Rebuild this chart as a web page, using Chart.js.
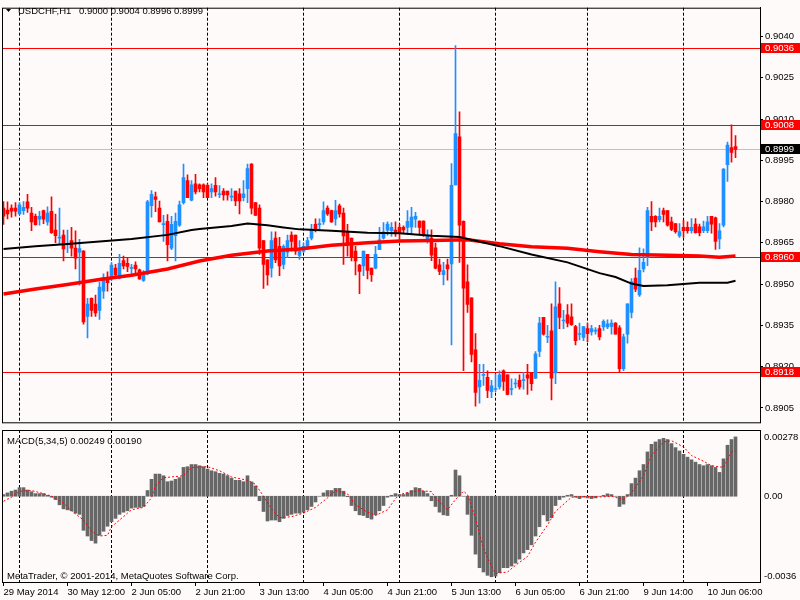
<!DOCTYPE html>
<html>
<head>
<meta charset="utf-8">
<script src="https://cdn.jsdelivr.net/npm/chart.js"></script>
<style>
  body { margin: 0; background: #fffafa; }
  canvas { position: absolute; left: 0; }
  #graficoPreco { top: 0; }
  #graficoMacd { top: 429px; }
</style>
</head>
<body>
<canvas id="graficoPreco" width="800" height="430"></canvas>
<canvas id="graficoMacd" width="800" height="171"></canvas>
<script>
const symbol = 'USDCHF,H1';
const headerOhlc = '0.9000 0.9004 0.8996 0.8999';
const macdTitle = 'MACD(5,34,5) 0.00249 0.00190';
const copyright = 'MetaTrader, © 2001-2014, MetaQuotes Software Corp.';

// H1 candles, one entry per bar
const opens = [
  .89776,.89769,.89776,.89776,.89755,.89767,.89799,.89758,.89746,.89736,
  .89767,.89726,.89765,.89696,.89667,.89678,.89645,.89658,.89631,.89616,
  .8962,.89383,.89448,.89427,.89404,.89474,.89525,.89525,.89558,.89522,
  .89586,.89576,.89557,.89569,.89552,.89513,.89537,.89785,.89817,.89776,
  .89716,.89728,.89631,.89676,.89714,.89796,.89876,.89805,.89865,.89861,
  .89861,.89859,.89835,.89859,.89825,.89838,.89838,.89816,.89838,.89828,
  .89814,.89847,.89936,.89796,.89776,.89658,.89588,.89558,.89667,.89637,
  .89572,.89616,.89678,.89678,.89604,.8962,.89631,.89667,.89717,.89716,
  .89726,.89776,.89767,.89737,.89785,.89758,.8969,.89667,.8962,.89569,
  .89566,.89608,.89558,.89558,.89625,.89667,.89696,.89694,.89696,.89706,
  .89706,.89706,.89708,.89736,.89729,.89729,.89664,.89667,.89632,.8957,
  .89534,.8957,.89573,.89861,.90035,.89728,.89508,.8945,.89261,.89126,
  .89168,.89161,.89109,.89117,.89126,.89185,.8917,.89117,.89137,.8915,
  .89149,.8917,.89177,.89158,.89255,.89379,.89307,.8933,.89177,.89428,
  .89366,.89388,.89381,.89346,.89317,.89306,.89338,.89326,.89329,.89338,
  .89344,.89344,.89346,.89358,.89341,.89193,.89318,.89397,.89522,.89461,
  .89555,.89597,.89746,.89746,.89734,.89767,.89767,.89726,.8972,.89675,
  .89706,.89706,.89694,.89718,.89708,.89694,.89694,.89746,.89741,.89664,
  .89714,.89934,.89996,.9000
];
const highs = [
  .8980,.89799,.89788,.89796,.89796,.8980,.89826,.89779,.89755,.89765,
  .89769,.89781,.89817,.89755,.89776,.89696,.89696,.89706,.89694,.89663,
  .89622,.89448,.8945,.8946,.89507,.89537,.89545,.89578,.89572,.89608,
  .89602,.89596,.89572,.89581,.89555,.89549,.89805,.8984,.89835,.89802,
  .8975,.89753,.89746,.89758,.89802,.89936,.89897,.89876,.89899,.89865,
  .89865,.89865,.89865,.89887,.89858,.89847,.89838,.89847,.89838,.89847,
  .89876,.89936,.89938,.89796,.89788,.89658,.89588,.8969,.8969,.8967,
  .89643,.89678,.8969,.89678,.89658,.89649,.8967,.89717,.89737,.89737,
  .89799,.89785,.89769,.89805,.89791,.89776,.89717,.89667,.89637,.89572,
  .8962,.89608,.89558,.89637,.89706,.89724,.89726,.89724,.89726,.89718,
  .89712,.89767,.89779,.89761,.8973,.8973,.89697,.89697,.89649,.89591,
  .89579,.89591,.89938,.90367,.90126,.8973,.8957,.8945,.8932,.89208,
  .89208,.89185,.8915,.89173,.89185,.89188,.8917,.89156,.89156,.8917,
  .89179,.89208,.89179,.89255,.89379,.89379,.8935,.89428,.89508,.89487,
  .89405,.89426,.89428,.8935,.89358,.89346,.89358,.8935,.89342,.8935,
  .8937,.8937,.8937,.8936,.89349,.89318,.89428,.8952,.89558,.89632,
  .89628,.89779,.8980,.89749,.89776,.89776,.89767,.89744,.8972,.8972,
  .89732,.89726,.89738,.89738,.89718,.89729,.89746,.89746,.89744,.8972,
  .8992,.90016,.90079,.9004
];
const lows = [
  .89717,.89737,.89743,.89747,.89753,.89753,.89761,.89694,.89714,.89714,
  .8972,.89714,.89684,.89651,.89643,.89584,.89614,.89602,.89555,.89496,
  .89354,.89304,.89383,.89383,.89372,.89448,.89474,.89513,.89531,.89519,
  .89555,.89545,.89537,.89533,.89517,.8951,.89533,.89743,.89763,.89726,
  .89655,.89584,.89625,.89584,.8971,.89791,.89814,.89802,.89828,.89835,
  .89814,.89814,.89814,.8982,.89814,.89805,.89805,.89802,.89785,.89755,
  .89802,.89796,.89755,.8975,.89608,.89484,.89496,.89525,.89578,.89531,
  .89555,.89596,.8962,.89608,.8959,.89614,.89625,.89661,.8969,.89699,
  .89717,.8975,.89724,.89714,.89743,.89572,.89602,.89584,.89533,.89465,
  .89531,.89519,.8951,.89555,.89625,.89663,.89678,.89673,.89673,.89658,
  .89685,.89682,.89682,.89706,.89682,.89673,.89649,.89585,.89555,.89534,
  .89497,.89514,.89279,.89861,.89579,.89185,.89397,.89217,.89056,.89067,
  .89132,.89087,.89087,.89109,.89118,.89114,.89097,.89097,.89123,.89118,
  .89118,.89099,.89114,.89156,.89236,.89314,.89287,.89079,.89138,.89338,
  .89338,.89344,.8935,.89279,.89297,.89294,.89291,.89314,.89318,.89297,
  .89332,.89338,.89318,.89318,.89179,.89185,.89285,.89377,.89473,.89455,
  .89544,.89567,.89694,.89708,.89726,.89726,.89711,.89694,.89685,.8967,
  .8967,.89685,.89685,.89685,.89675,.89687,.89687,.89685,.89626,.89628,
  .89708,.89873,.89943,.8996
];
const closes = [
  .89747,.89755,.89765,.89765,.89788,.89779,.89776,.89726,.89716,.89746,
  .89736,.89758,.89687,.89676,.89668,.89628,.89646,.89631,.89594,.89629,
  .89363,.89427,.89404,.89395,.89489,.89525,.89505,.89569,.89533,.89576,
  .89566,.89564,.89559,.89555,.89519,.89537,.89799,.89826,.89808,.89726,
  .89719,.89643,.89717,.89728,.89788,.89887,.89814,.89861,.89835,.89847,
  .89835,.89814,.89847,.89835,.89827,.89824,.89824,.89818,.89802,.89802,
  .89828,.8992,.89776,.8975,.89631,.89572,.89533,.89658,.89588,.89566,
  .89637,.89658,.89655,.8962,.8962,.89637,.89658,.89699,.89696,.89718,
  .89767,.89755,.89726,.89767,.89755,.89675,.89643,.89596,.89584,.89546,
  .8962,.8955,.89534,.89608,.89661,.8969,.89718,.89706,.89687,.89687,
  .89697,.89728,.89744,.89746,.89706,.89679,.89675,.89605,.89558,.89546,
  .89549,.89555,.89859,.90047,.89714,.89485,.89426,.89244,.89106,.8915,
  .8917,.89114,.8913,.89118,.8917,.89146,.89099,.89118,.89138,.89126,
  .8915,.89158,.89138,.89247,.89358,.89318,.89308,.89158,.89417,.89379,
  .89367,.89358,.89353,.89294,.89318,.89346,.8932,.89338,.8933,.89308,
  .89365,.89356,.89358,.89318,.89193,.89308,.89428,.89508,.89482,.8955,
  .89579,.89767,.89726,.89726,.89746,.89753,.89714,.89699,.89691,.89691,
  .89694,.89694,.89706,.89687,.89687,.89708,.89726,.89718,.89655,.89694,
  .89918,.90005,.89979,.8999
];

// moving averages, read at sample bars
const blackMaIdx = [0,8,16,24,32,41,47,49,57,61,66,70,74,82,91,99,107,114,124,132,141,149,153,157,160,166,174,181,183];
const blackMa = [.89628,.89638,.89646,.89655,.89664,.89679,.89697,.897,.89711,.8972,.89714,.89706,.89699,.89694,.89687,.89685,.89676,.89671,.89638,.89608,.89579,.8954,.89526,.89502,.89493,.89496,.89505,.89505,.89512];
const redMaIdx = [0,8,16,24,32,41,49,57,66,74,82,91,99,107,116,124,132,141,149,157,166,174,179,183];
const redMa = [.89464,.89482,.89499,.89517,.89532,.89555,.89584,.89605,.8962,.89628,.89641,.8965,.89657,.89659,.89661,.89647,.89636,.8963,.89618,.89608,.89605,.89602,.89598,.89602];

// MACD histogram, one value per bar
const macdHist = [
  .00007,.00014,.00021,.00026,.00036,.00036,.00026,.00019,.00011,.00011,
  .00011,.00004,-.00004,-.00014,-.00036,-.00053,-.00057,-.00061,-.00071,-.00076,
  -.00143,-.00167,-.00186,-.00197,-.00164,-.00147,-.00126,-.00107,-.00093,-.00076,
  -.00067,-.00061,-.0005,-.00047,-.00047,-.00043,.00024,.00071,.00093,.00093,
  .00086,.00061,.00064,.00071,.00078,.00121,.00124,.00133,.00133,.00128,
  .00124,.00114,.00107,.00103,.00096,.00093,.00086,.00076,.00067,.00067,
  .00061,.00086,.0006,.00043,-.00019,-.00064,-.00104,-.001,-.001,-.00107,
  -.00093,-.00081,-.00076,-.00071,-.00071,-.00067,-.00057,-.00043,-.00024,0,
  .00014,.00024,.00024,.00033,.00033,.00021,-.00002,-.00039,-.00061,-.00078,
  -.00081,-.0009,-.00096,-.00078,-.00061,-.00039,-.00004,.00004,.00011,.00007,
  .00007,.00014,.00024,.00036,.00033,.00021,.00011,-.00019,-.00043,-.00067,
  -.00078,-.00081,.00004,.0011,.00086,0,-.00076,-.00164,-.00243,-.003,
  -.00318,-.00332,-.00338,-.00335,-.00321,-.003,-.003,-.00293,-.00281,-.00264,
  -.00238,-.00224,-.00204,-.00167,-.00128,-.00078,-.00104,-.0009,-.00039,-.00014,
  -.00004,.00004,.00007,-.00004,-.0001,-.00004,-.00007,-.0001,-.00007,0,
  .00004,.0001,.00007,0,-.00043,-.00033,.00007,.00053,.00076,.00107,
  .00133,.00186,.00218,.00228,.00238,.00243,.00238,.00221,.00204,.0019,
  .00176,.00164,.00153,.00143,.00133,.00128,.00133,.00128,.00121,.001,
  .00157,.00214,.00238,.00249
];
const signalIdx = [0,2,4,7,10,12,15,17,20,22,24,26,27,29,31,32,35,37,38,40,42,45,47,51,54,57,61,63,65,67,69,72,75,78,81,83,86,88,91,93,96,98,99,102,104,107,108,111,113,115,116,118,120,122,123,126,128,131,133,136,138,141,142,146,149,152,155,157,160,162,165,167,170,172,175,177,180,182,183];
const signalVal = [-.00021,-.00004,.00021,.00024,.00011,0,-.00029,-.00061,-.001,-.00147,-.00167,-.00164,-.00128,-.001,-.00071,-.00057,-.00047,-.00007,.00043,.00078,.00081,.00086,.00121,.00124,.00107,.00081,.00067,.0005,0,-.00053,-.0009,-.00086,-.00071,-.00047,-.00007,.00024,.0001,-.00036,-.00067,-.00081,-.00057,-.0001,.00007,.00019,.00024,.00019,-.00007,-.00057,-.00014,.00021,.00007,-.00093,-.00221,-.00293,-.00324,-.00318,-.0029,-.00253,-.00193,-.00121,-.00064,-.00019,-.00004,-.00001,-.00003,0,-.00014,.00014,.00086,.00171,.00228,.00233,.00207,.00171,.00147,.00128,.00121,.00186,.0019];

// axes
const priceTicks = [0.9040, 0.9025, 0.9010, 0.8995, 0.8980, 0.8965, 0.8950, 0.8935, 0.8920, 0.8905];
const redLevels = [0.9036, 0.9008, 0.8960, 0.8918];
const bidLevel = 0.8999;
const macdTickText = ['0.00278', '0.00', '-0.0036'];
const timeLabelIdx = [0, 16, 32, 48, 64, 80, 96, 112, 128, 144, 160, 176];
const timeLabels = ['29 May 2014', '30 May 12:00', '2 Jun 05:00', '2 Jun 21:00', '3 Jun 13:00', '4 Jun 05:00',
  '4 Jun 21:00', '5 Jun 13:00', '6 Jun 05:00', '6 Jun 21:00', '9 Jun 14:00', '10 Jun 06:00'];
const dayIdx = [4, 27, 51, 75, 99, 123, 146, 170];

const xMin = -0.375;
const xMax = 189.125;
const axisWidth = 40;
const fontFamily = "'Liberation Sans', Arial, sans-serif";
const textFont = "9.5px " + fontFamily;
const bullColor = '#1e90ff';
const bearColor = '#ff0000';

function candleColor(i){
    return closes[i] >= opens[i] ? bullColor : bearColor;
};

function drawDayLines(ctx, area, xScale){
    ctx.save();
    ctx.strokeStyle = '#000';
    ctx.lineWidth = 1;
    ctx.setLineDash([3, 2]);
    dayIdx.forEach(i => {
        let x = Math.floor(xScale.getPixelForValue(i)) + 0.5;
        ctx.beginPath();
        ctx.moveTo(x, area.top);
        ctx.lineTo(x, area.bottom);
        ctx.stroke();
    });
    ctx.restore();
};

function drawLevel(ctx, area, yScale, value, color){
    let y = Math.round(yScale.getPixelForValue(value)) + 0.5;
    ctx.strokeStyle = color;
    ctx.beginPath();
    ctx.moveTo(area.left, y);
    ctx.lineTo(area.right, y);
    ctx.stroke();
};

function drawPriceBox(ctx, area, yScale, value, color){
    let y = Math.round(yScale.getPixelForValue(value));
    ctx.fillStyle = color;
    ctx.fillRect(area.right + 1, y - 5, 800 - area.right - 1, 10);
    ctx.fillStyle = '#fff';
    ctx.fillText(value.toFixed(4), area.right + 5, y + 0.5);
};

function drawFrame(ctx, area){
    ctx.strokeStyle = '#000';
    ctx.lineWidth = 1;
    ctx.strokeRect(area.left + 0.5, area.top + 0.5, area.right - area.left, area.bottom - area.top);
};

//PRICE PANEL
const precoPlugin = {
    id: 'precoPlugin',
    beforeDatasetsDraw(chart){
        const {ctx, chartArea, scales} = chart;
        drawDayLines(ctx, chartArea, scales.x);
        ctx.save();
        ctx.lineWidth = 1;
        redLevels.forEach(v => drawLevel(ctx, chartArea, scales.y, v, '#ff0000'));
        drawLevel(ctx, chartArea, scales.y, bidLevel, '#c0c0c0');
        ctx.restore();
    },
    afterDraw(chart){
        const {ctx, chartArea, scales} = chart;
        ctx.save();
        drawFrame(ctx, chartArea);
        ctx.font = textFont;
        ctx.textBaseline = 'middle';
        ctx.textAlign = 'left';
        redLevels.forEach(v => drawPriceBox(ctx, chartArea, scales.y, v, '#ff0000'));
        drawPriceBox(ctx, chartArea, scales.y, bidLevel, '#000');
        ctx.fillStyle = '#000';
        ctx.beginPath();
        ctx.moveTo(6, 9);
        ctx.lineTo(11, 9);
        ctx.lineTo(8.5, 12);
        ctx.fill();
        ctx.textBaseline = 'alphabetic';
        ctx.fillText(symbol, 18, 13.5);
        ctx.fillText(headerOhlc, 79, 13.5);
        ctx.restore();
    }
};

const graficoPreco = new Chart(document.getElementById('graficoPreco'), {
    type: 'bar',
    data: {
      datasets: [{
        type: 'line',
        data: blackMaIdx.map((x, k) => ({x: x, y: blackMa[k]})),
        borderColor: '#000',
        borderWidth: 2,
        pointRadius: 0,
        order: 0
      }, {
        type: 'line',
        data: redMaIdx.map((x, k) => ({x: x, y: redMa[k]})),
        borderColor: '#ff0000',
        borderWidth: 3.5,
        pointRadius: 0,
        order: 1
      }, {
        data: opens.map((o, i) => ({x: i, y: [o, closes[i]]})),
        backgroundColor: ctx => candleColor(ctx.dataIndex),
        barThickness: 3,
        minBarLength: 1,
        grouped: false,
        order: 2
      }, {
        data: lows.map((l, i) => ({x: i, y: [l, highs[i]]})),
        backgroundColor: ctx => candleColor(ctx.dataIndex),
        barThickness: 1,
        grouped: false,
        order: 3
      }]
    },
    options: {
      responsive: false,
      animation: false,
      devicePixelRatio: 1,
      layout: { padding: { left: 2, top: 1, right: 0, bottom: 2 } },
      plugins: { legend: { display: false }, tooltip: { enabled: false } },
      scales: {
        x: { type: 'linear', display: false, min: xMin, max: xMax, offset: false, grid: { offset: false } },
        y: {
          position: 'right',
          min: 0.889977,
          max: 0.905048,
          beginAtZero: false,
          afterBuildTicks: axis => { axis.ticks = priceTicks.map(v => ({value: v})); },
          afterFit: axis => { axis.width = axisWidth; },
          ticks: { callback: v => v.toFixed(4), color: '#000', font: { family: fontFamily, size: 9.5 }, padding: 2 },
          grid: { drawOnChartArea: false, tickLength: 3, color: '#000' },
          border: { color: '#000' }
        }
      }
    },
    plugins: [precoPlugin]
});

//MACD PANEL
const macdPlugin = {
    id: 'macdPlugin',
    beforeDatasetsDraw(chart){
        drawDayLines(chart.ctx, chart.chartArea, chart.scales.x);
    },
    afterDraw(chart){
        const {ctx, chartArea, scales} = chart;
        ctx.save();
        drawFrame(ctx, chartArea);
        ctx.fillStyle = '#000';
        ctx.font = textFont;
        ctx.textAlign = 'left';
        ctx.textBaseline = 'alphabetic';
        ctx.fillText(macdTitle, 7, chartArea.top + 13.5);
        ctx.fillText(copyright, 7, chartArea.bottom - 3.5);
        ctx.textBaseline = 'middle';
        let x = chartArea.right + 4;
        ctx.fillText(macdTickText[0], x, chartArea.top + 7.5);
        ctx.fillText(macdTickText[1], x, scales.y.getPixelForValue(0));
        ctx.fillText(macdTickText[2], x, chartArea.bottom - 6);
        ctx.restore();
    }
};

const graficoMacd = new Chart(document.getElementById('graficoMacd'), {
    type: 'bar',
    data: {
      datasets: [{
        type: 'line',
        data: signalIdx.map((x, k) => ({x: x, y: signalVal[k]})),
        borderColor: '#ff0000',
        borderWidth: 1,
        borderDash: [2, 2],
        pointRadius: 0,
        order: 0
      }, {
        data: macdHist.map((v, i) => ({x: i, y: v})),
        backgroundColor: '#676767',
        barThickness: 3,
        grouped: false,
        order: 1
      }]
    },
    options: {
      responsive: false,
      animation: false,
      devicePixelRatio: 1,
      layout: { padding: { left: 2, top: 1, right: 0, bottom: 0 } },
      plugins: { legend: { display: false }, tooltip: { enabled: false } },
      scales: {
        x: {
          type: 'linear',
          min: xMin,
          max: xMax,
          offset: false,
          afterBuildTicks: axis => { axis.ticks = timeLabelIdx.map(v => ({value: v})); },
          afterFit: axis => { axis.height = 18; },
          ticks: {
            callback: v => timeLabels[timeLabelIdx.indexOf(v)],
            align: 'start',
            maxRotation: 0,
            autoSkip: false,
            color: '#000',
            font: { family: fontFamily, size: 9.5 },
            padding: 1
          },
          grid: { drawOnChartArea: false, offset: false, tickLength: 4, color: '#000' },
          border: { color: '#000' }
        },
        y: {
          position: 'right',
          min: -0.0036,
          max: 0.00278,
          beginAtZero: false,
          afterFit: axis => { axis.width = axisWidth; },
          ticks: { display: false },
          grid: { display: false },
          border: { color: '#000' }
        }
      }
    },
    plugins: [macdPlugin]
});
</script>
</body>
</html>
